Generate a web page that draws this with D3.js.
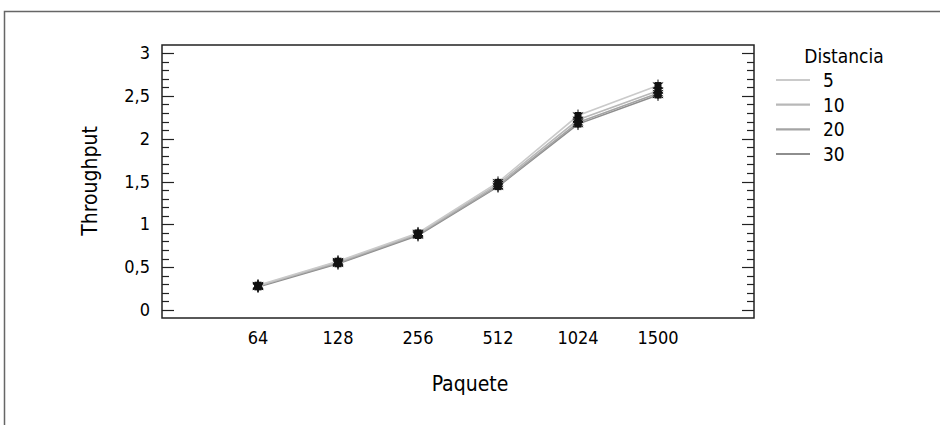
<!DOCTYPE html>
<html>
<head>
<meta charset="utf-8">
<script src="https://cdn.jsdelivr.net/npm/d3@7"></script>
<style>
  html, body { margin: 0; padding: 0; background: #fff; }
  svg { display: block; font-family: "Liberation Sans Narrow", "DejaVu Sans Condensed", "Roboto Condensed", sans-serif; }
  svg text { fill: #000; }
</style>
</head>
<body>
<svg width="940" height="425"></svg>
<script>
const paquetes = ['64', '128', '256', '512', '1024', '1500'];
const distancias = ['5', '10', '20', '30'];
const d5 = [0.29, 0.57, 0.90, 1.49, 2.27, 2.62];
const d10 = [0.28, 0.56, 0.89, 1.47, 2.22, 2.56];
const d20 = [0.28, 0.55, 0.88, 1.45, 2.19, 2.53];
const d30 = [0.27, 0.54, 0.87, 1.44, 2.17, 2.51];
const yTicks = [0, 0.5, 1, 1.5, 2, 2.5, 3];

const series = [d5, d10, d20, d30];
const fmt = (d) => String(d).replace('.', ',');

const svg = d3.select('svg');
const PLOT_LEFT = 162, PLOT_RIGHT = 754, PLOT_TOP = 45, PLOT_BOTTOM = 318;

// outer frame (cut off at right / bottom)
svg.append('rect')
    .attr('x', 4.5).attr('y', 11.5)
    .attr('width', 960).attr('height', 440)
    .attr('fill', 'none')
    .attr('stroke', '#666')
    .attr('stroke-width', 1.5);

// Scales
const scaleX = d3.scalePoint()
    .domain(paquetes)
    .range([PLOT_LEFT, PLOT_RIGHT])
    .padding(1.2);

const scaleY = d3.scaleLinear()
    .domain([-0.093, 3.093])
    .range([PLOT_BOTTOM, PLOT_TOP]);

const scaleColour = d3.scaleOrdinal()
    .domain(distancias)
    .range(['#cacaca', '#b8b8b8', '#a4a4a4', '#8e8e8e']);

// plot frame
svg.append('rect')
    .attr('x', PLOT_LEFT).attr('y', PLOT_TOP)
    .attr('width', PLOT_RIGHT - PLOT_LEFT).attr('height', PLOT_BOTTOM - PLOT_TOP)
    .attr('fill', 'none')
    .attr('stroke', '#222')
    .attr('stroke-width', 1.5);

// y ticks, left and right, pointing inward
const minor = d3.range(0, 3.001, 0.1).map(v => +v.toFixed(1));
const tickG = svg.append('g').attr('stroke', '#222').attr('stroke-width', 1.2);
minor.forEach(v => {
    const major = yTicks.includes(v);
    const len = major ? 12 : 7;
    const y = Math.round(scaleY(v)) + 0.5;
    tickG.append('line').attr('x1', PLOT_LEFT).attr('x2', PLOT_LEFT + len).attr('y1', y).attr('y2', y);
    tickG.append('line').attr('x1', PLOT_RIGHT).attr('x2', PLOT_RIGHT - len).attr('y1', y).attr('y2', y);
});

svg.append('g')
    .selectAll('text')
    .data(yTicks)
    .join('text')
    .attr('x', PLOT_LEFT - 12)
    .attr('y', d => scaleY(d) + 6)
    .attr('text-anchor', 'end')
    .style('font-size', '18px')
    .text(fmt);

// x tick labels
svg.append('g')
    .selectAll('text')
    .data(paquetes)
    .join('text')
    .attr('x', d => scaleX(d))
    .attr('y', 344)
    .attr('text-anchor', 'middle')
    .style('font-size', '18px')
    .text(d => d);

// axis titles
svg.append('text')
    .attr('x', 470).attr('y', 391)
    .attr('text-anchor', 'middle')
    .style('font-size', '21px')
    .text('Paquete');

svg.append('text')
    .attr('transform', 'translate(97,181) rotate(-90)')
    .attr('text-anchor', 'middle')
    .style('font-size', '21px')
    .text('Throughput');

// lines, darkest first
const line = d3.line()
    .x((_d, i) => scaleX(paquetes[i]))
    .y(d => scaleY(d));

const linesG = svg.append('g');
for (let k = series.length - 1; k >= 0; k--) {
    linesG.append('path')
        .datum(series[k])
        .attr('d', line)
        .attr('fill', 'none')
        .attr('stroke', scaleColour(distancias[k]))
        .attr('stroke-width', 1.6);
}

// markers
const markG = svg.append('g');
series.forEach(s => {
    s.forEach((v, i) => {
        const g = markG.append('g')
            .attr('transform', `translate(${scaleX(paquetes[i])},${scaleY(v)})`);
        g.append('path')
            .attr('d', d3.symbol(d3.symbolSquare, 49)())
            .attr('fill', '#111');
        g.append('path')
            .attr('d', d3.symbol(d3.symbolAsterisk, 100)())
            .attr('fill', 'none')
            .attr('stroke', '#111')
            .attr('stroke-width', 1);
    });
});

// legend
const legend = svg.append('g');
legend.append('text')
    .attr('x', 844).attr('y', 63)
    .attr('text-anchor', 'middle')
    .style('font-size', '19px')
    .text('Distancia');

const legendY = d3.scalePoint()
    .domain(distancias)
    .range([80, 154]);

legend.selectAll('line')
    .data(distancias)
    .join('line')
    .attr('x1', 776).attr('x2', 810)
    .attr('y1', d => legendY(d)).attr('y2', d => legendY(d))
    .attr('stroke', d => scaleColour(d))
    .attr('stroke-width', 2.2);

legend.selectAll('text.item')
    .data(distancias)
    .join('text')
    .attr('class', 'item')
    .attr('x', 823)
    .attr('y', d => legendY(d) + 7)
    .style('font-size', '19px')
    .text(d => d);
</script>
</body>
</html>
